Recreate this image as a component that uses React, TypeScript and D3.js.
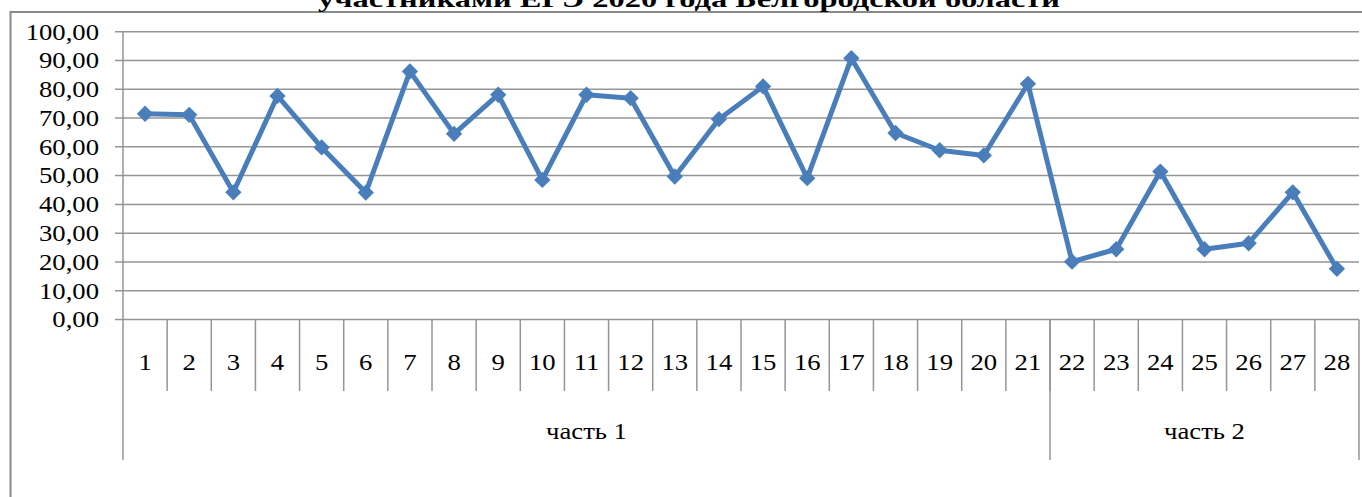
import React from "react";
import * as d3 from "d3";

const categories: string[] = Array.from({ length: 28 }, (_, i) => String(i + 1));
const values: number[] = [
  71.5, 71.1, 44.2, 77.7, 59.8, 44.1, 86.2, 64.5, 78.1, 48.5,
  78.1, 76.9, 49.7, 69.6, 81.0, 49.1, 90.8, 64.8, 58.8, 57.0,
  81.9, 20.1, 24.4, 51.4, 24.4, 26.5, 44.2, 17.6,
];
const groups: { name: string; count: number }[] = [
  { name: "часть 1", count: 21 },
  { name: "часть 2", count: 7 },
];
const yTicks: number[] = [0, 10, 20, 30, 40, 50, 60, 70, 80, 90, 100];
const title = "участниками ЕГЭ 2020 года  Белгородской области";

const W = 1362;
const H = 497;
const left = 123;
const right = 1359;
const top = 31.7;
const bottom = 319.5;
const FONT = "'Liberation Serif', 'Times New Roman', serif";
const GRID = "#959595";
const BLUE = "#4a7ebb";

export default function App() {
  const x = d3.scaleBand<string>().domain(categories).range([left, right]).padding(0);
  const y = d3.scaleLinear().domain([0, 100]).range([bottom, top]);
  const fmt = (v: number) => v.toFixed(2).replace(".", ",");
  const cx = (c: string) => (x(c) as number) + x.bandwidth() / 2;

  const line = d3
    .line<number>()
    .x((_, i) => cx(categories[i]))
    .y((d) => y(d));

  const diamond = d3.symbol().type(d3.symbolDiamond2).size(170)() as string;

  let acc = 0;
  const groupRanges = groups.map((g) => {
    const start = acc;
    acc += g.count;
    const x0 = x(categories[start]) as number;
    const x1 = (x(categories[acc - 1]) as number) + x.bandwidth();
    return { ...g, x0, x1 };
  });

  const sx = 1.16;

  return (
    <svg
      width={W}
      height={H}
      style={{ position: "absolute", left: 0, top: 0, background: "#fff" }}
      fontFamily={FONT}
    >
      <rect x={10.5} y={12} width={1500} height={700} fill="none" stroke="#8a8a8a" strokeWidth={2} />

      <text
        x={689}
        y={7}
        textAnchor="middle"
        fontSize={24}
        fontWeight="bold"
        fill="#000"
        textLength={742}
        lengthAdjust="spacingAndGlyphs"
      >
        {title}
      </text>

      {yTicks.map((t) => (
        <line key={t} x1={115} x2={right} y1={y(t)} y2={y(t)} stroke={GRID} strokeWidth={1.5} />
      ))}

      {yTicks.map((t) => (
        <text
          key={t}
          transform={`translate(99,${y(t) + 7.8}) scale(${sx},1)`}
          textAnchor="end"
          fontSize={23}
          fill="#000"
        >
          {fmt(t)}
        </text>
      ))}

      <line x1={left} x2={left} y1={top} y2={460} stroke={GRID} strokeWidth={1.5} />

      {categories.slice(1).map((c) => (
        <line
          key={c}
          x1={x(c) as number}
          x2={x(c) as number}
          y1={bottom}
          y2={391}
          stroke={GRID}
          strokeWidth={1.5}
        />
      ))}

      {groupRanges.map((g) => (
        <line key={g.name} x1={g.x1} x2={g.x1} y1={bottom} y2={460} stroke={GRID} strokeWidth={1.5} />
      ))}

      {categories.map((c) => (
        <text
          key={c}
          transform={`translate(${cx(c)},369.5) scale(${sx},1)`}
          textAnchor="middle"
          fontSize={23}
          fill="#000"
        >
          {c}
        </text>
      ))}

      {groupRanges.map((g) => (
        <text
          key={g.name}
          transform={`translate(${(g.x0 + g.x1) / 2},438.5) scale(${sx},1)`}
          textAnchor="middle"
          fontSize={23}
          fill="#000"
        >
          {g.name}
        </text>
      ))}

      <path d={line(values) as string} fill="none" stroke={BLUE} strokeWidth={5} strokeLinejoin="round" />
      {values.map((v, i) => (
        <path key={i} d={diamond} transform={`translate(${cx(categories[i])},${y(v)})`} fill={BLUE} />
      ))}
    </svg>
  );
}
